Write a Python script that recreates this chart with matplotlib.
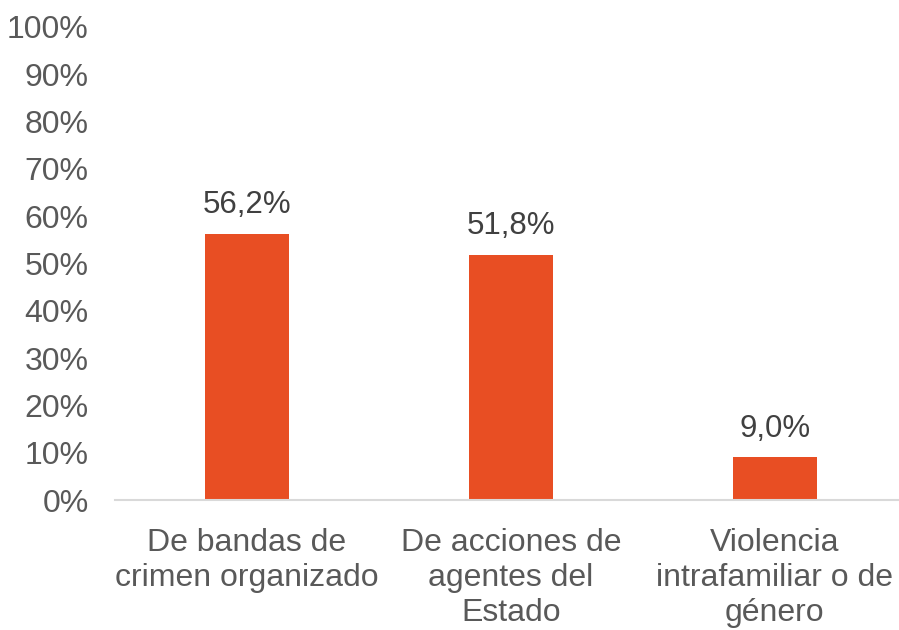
import matplotlib.pyplot as plt
import numpy as np

categories = ["De bandas de\ncrimen organizado", "De acciones de\nagentes del\nEstado", "Violencia\nintrafamiliar o de\ngénero"]
values = [56.2, 51.8, 9.0]
value_labels = ["56,2%", "51,8%", "9,0%"]
yticks = np.arange(0, 101, 10)

plt.rcParams['font.family'] = ['Liberation Sans', 'DejaVu Sans']
text_color = '#595959'

fig = plt.figure(figsize=(8.99, 6.3), dpi=100)
ax = fig.add_axes([115 / 899, 130 / 630, 784 / 899, 473 / 630])

x = np.arange(len(categories))
bars = ax.bar(x, values, width=0.315, color='#E84E23', zorder=2)

for b, lab in zip(bars, value_labels):
    ax.annotate(lab, (b.get_x() + b.get_width() / 2, b.get_height()),
                xytext=(0, 10), textcoords='offset points',
                ha='center', va='bottom', fontsize=22.5, color='#404040')

ax.set_xlim(-0.5, 2.47)
ax.set_ylim(0, 100)
ax.set_yticks(yticks)
ax.set_yticklabels([f"{v}%" for v in yticks])
ax.set_xticks(x)
ax.set_xticklabels(categories, linespacing=1.22)

for s in ['top', 'right', 'left']:
    ax.spines[s].set_visible(False)
ax.spines['bottom'].set_color('#D9D9D9')
ax.spines['bottom'].set_linewidth(1.5)

ax.tick_params(axis='y', length=0, pad=19, labelsize=23, labelcolor=text_color)
ax.tick_params(axis='x', length=0, pad=20, labelsize=23, labelcolor=text_color)

fig.savefig('out.png', dpi=100)
